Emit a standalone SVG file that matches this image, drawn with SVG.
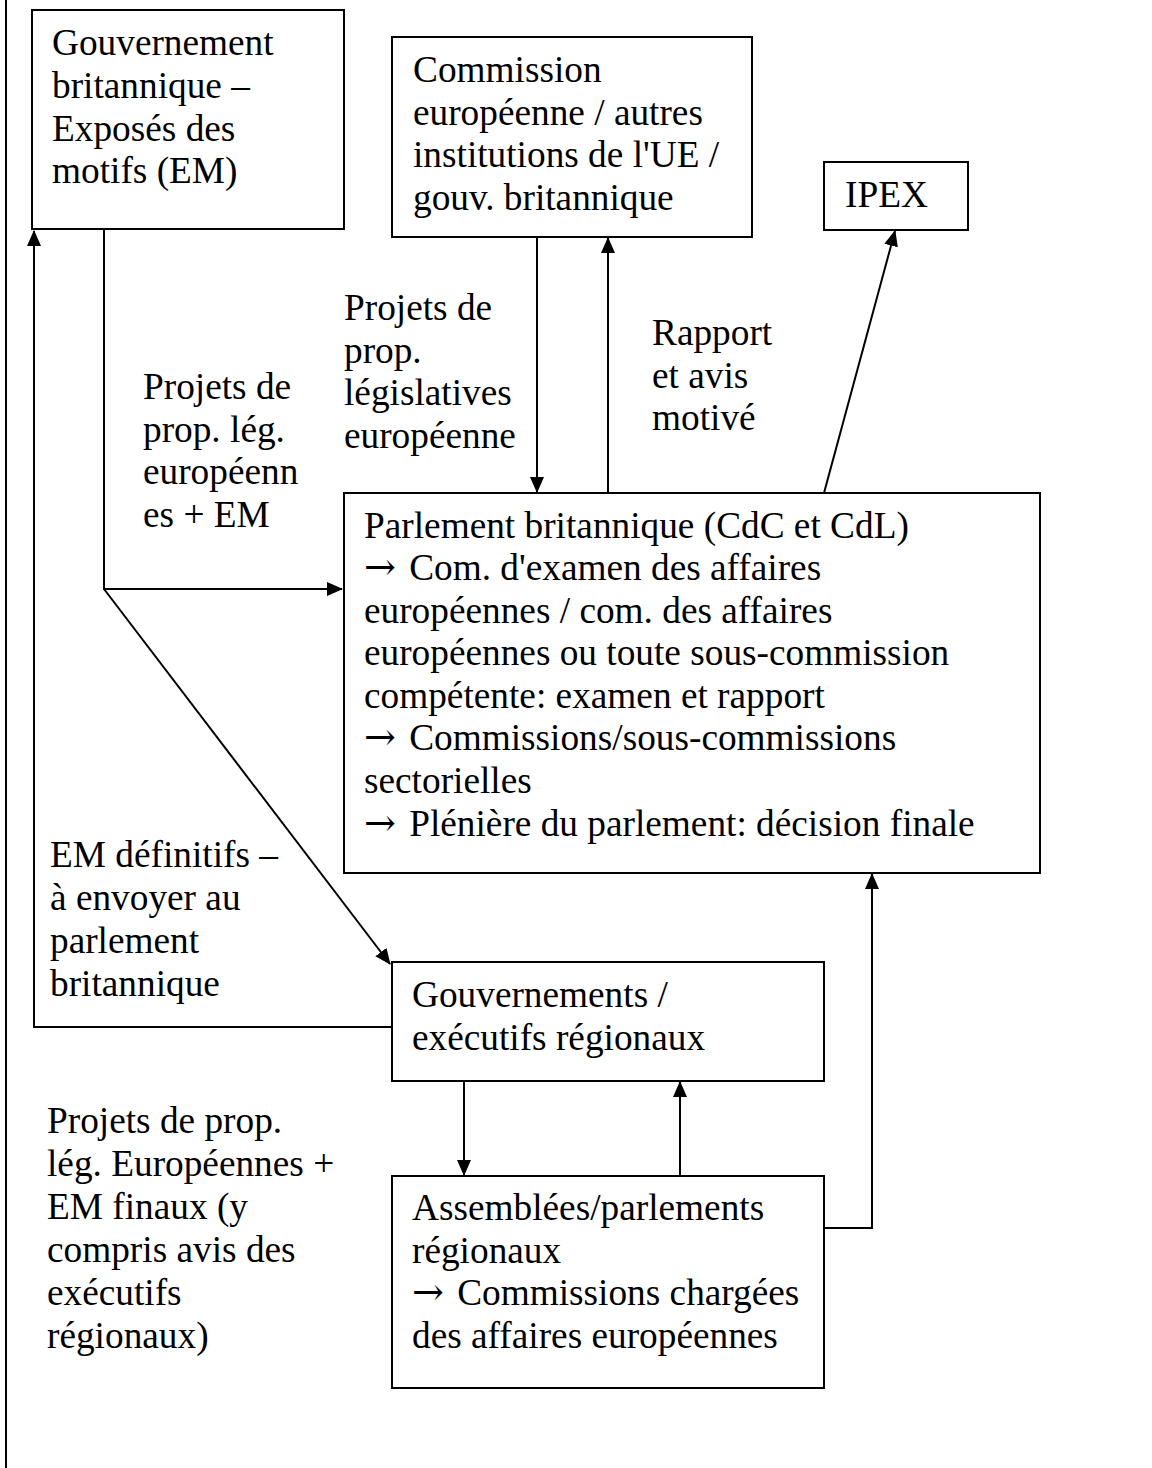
<svg xmlns="http://www.w3.org/2000/svg" width="1152" height="1468" viewBox="0 0 1152 1468">
<style>
text{font-family:"Liberation Serif","Times New Roman",serif;font-size:37.3px;fill:#000}
.ar{font-family:"DejaVu Serif","DejaVu Sans",serif;font-size:38px}
.box{fill:#fff;stroke:#000;stroke-width:2}
.ln{fill:none;stroke:#000;stroke-width:2}
</style>
<defs>
<marker id="ah" markerUnits="userSpaceOnUse" markerWidth="16" markerHeight="14" refX="15" refY="7" orient="auto" viewBox="0 0 16 14">
<path d="M0,0 L16,7 L0,14 z" fill="#000"/>
</marker>
</defs>
<rect width="1152" height="1468" fill="#fff"/>
<line x1="6" y1="0" x2="6" y2="1468" stroke="#000" stroke-width="2"/>

<g id="connectors">
<polyline class="ln" points="392,1027 34,1027 34,231" marker-end="url(#ah)"/>
<polyline class="ln" points="104,229 104,589 342,589" marker-end="url(#ah)"/>
<line class="ln" x1="104" y1="589" x2="390" y2="964" marker-end="url(#ah)"/>
<line class="ln" x1="537" y1="237" x2="537" y2="492" marker-end="url(#ah)"/>
<line class="ln" x1="608" y1="493" x2="608" y2="238" marker-end="url(#ah)"/>
<line class="ln" x1="824" y1="493" x2="895" y2="231" marker-end="url(#ah)"/>
<line class="ln" x1="464" y1="1081" x2="464" y2="1175" marker-end="url(#ah)"/>
<line class="ln" x1="680" y1="1176" x2="680" y2="1082" marker-end="url(#ah)"/>
<polyline class="ln" points="824,1228 872,1228 872,874" marker-end="url(#ah)"/>
</g>

<g id="gouv-brit">
<rect class="box" x="32" y="10" width="312" height="219"/>
<text x="52" y="55">Gouvernement</text>
<text x="52" y="98">britannique –</text>
<text x="52" y="141">Exposés des</text>
<text x="52" y="183">motifs (EM)</text>
</g>

<g id="commission">
<rect class="box" x="392" y="37" width="360" height="200"/>
<text x="413" y="82">Commission</text>
<text x="413" y="125">européenne / autres</text>
<text x="413" y="167">institutions de l'UE /</text>
<text x="413" y="210">gouv. britannique</text>
</g>

<g id="ipex">
<rect class="box" x="824" y="162" width="144" height="68"/>
<text x="845" y="207">IPEX</text>
</g>

<g id="parlement">
<rect class="box" x="344" y="493" width="696" height="380"/>
<text x="364" y="538">Parlement britannique (CdC et CdL)</text>
<text x="364" y="580"><tspan class="ar">→</tspan><tspan dx="4"> Com. d'examen des affaires</tspan></text>
<text x="364" y="623">européennes / com. des affaires</text>
<text x="364" y="665">européennes ou toute sous-commission</text>
<text x="364" y="708">compétente: examen et rapport</text>
<text x="364" y="750"><tspan class="ar">→</tspan><tspan dx="4"> Commissions/sous-commissions</tspan></text>
<text x="364" y="793">sectorielles</text>
<text x="364" y="836"><tspan class="ar">→</tspan><tspan dx="4"> Plénière du parlement: décision finale</tspan></text>
</g>

<g id="gouv-reg">
<rect class="box" x="392" y="962" width="432" height="119"/>
<text x="412" y="1007">Gouvernements /</text>
<text x="412" y="1050">exécutifs régionaux</text>
</g>

<g id="assemblees">
<rect class="box" x="392" y="1176" width="432" height="212"/>
<text x="412" y="1220">Assemblées/parlements</text>
<text x="412" y="1263">régionaux</text>
<text x="412" y="1305"><tspan class="ar">→</tspan><tspan dx="4"> Commissions chargées</tspan></text>
<text x="412" y="1348">des affaires européennes</text>
</g>

<g id="labels">
<text x="143" y="399">Projets de</text>
<text x="143" y="442">prop. lég.</text>
<text x="143" y="484">européenn</text>
<text x="143" y="527">es + EM</text>

<text x="344" y="320">Projets de</text>
<text x="344" y="363">prop.</text>
<text x="344" y="405">législatives</text>
<text x="344" y="448">européenne</text>

<text x="652" y="345">Rapport</text>
<text x="652" y="388">et avis</text>
<text x="652" y="430">motivé</text>

<text x="50" y="867">EM définitifs –</text>
<text x="50" y="910">à envoyer au</text>
<text x="50" y="953">parlement</text>
<text x="50" y="996">britannique</text>

<text x="47" y="1133">Projets de prop.</text>
<text x="47" y="1176">lég. Européennes +</text>
<text x="47" y="1219">EM finaux (y</text>
<text x="47" y="1262">compris avis des</text>
<text x="47" y="1305">exécutifs</text>
<text x="47" y="1348">régionaux)</text>
</g>
</svg>
